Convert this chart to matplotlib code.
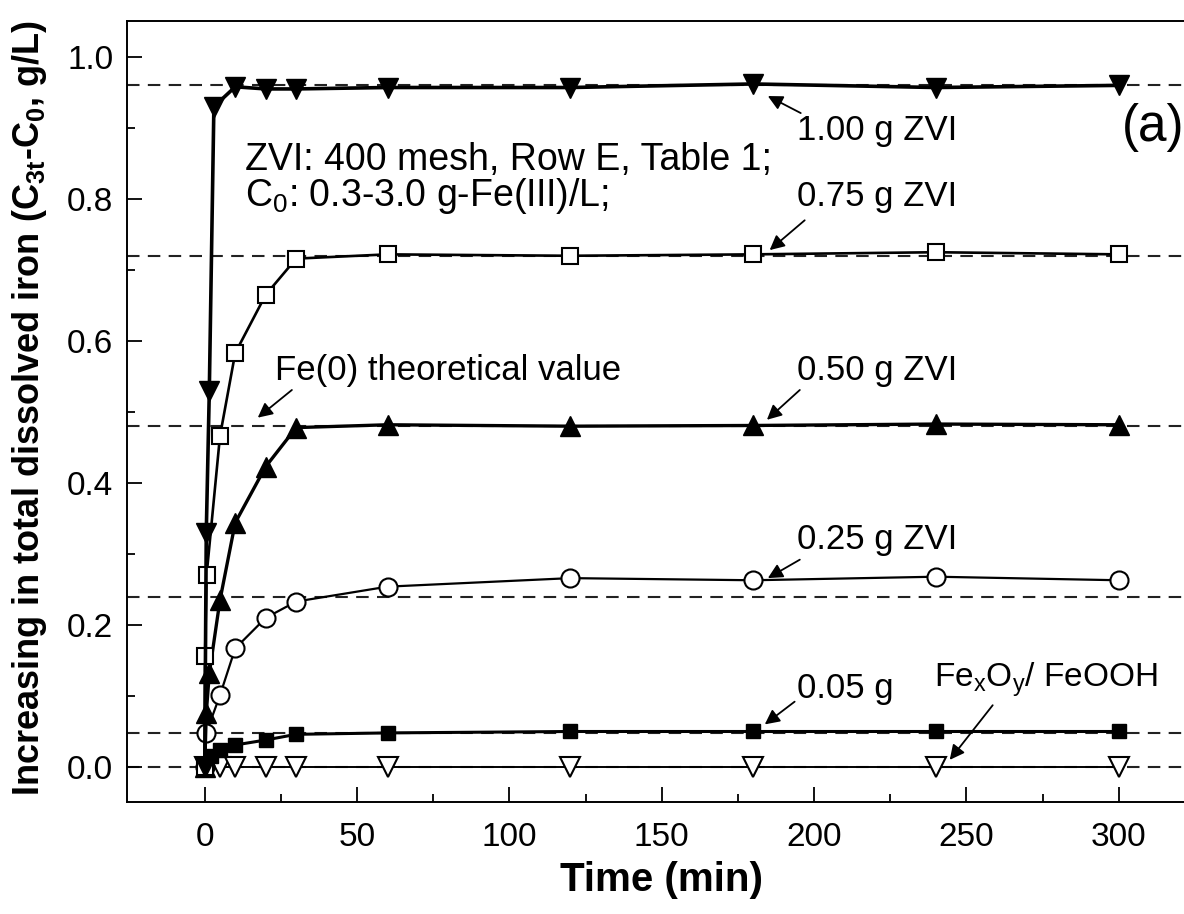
import matplotlib
matplotlib.use("Agg")
import matplotlib.pyplot as plt

plt.rcParams['font.family'] = ['Liberation Sans', 'DejaVu Sans']

# data (time in min, increase in dissolved iron in g/L)
t_100 = [0, 0.5, 1.5, 3, 10, 20, 30, 60, 120, 180, 240, 300]
c_100 = [0, 0.33, 0.53, 0.93, 0.958, 0.955, 0.955, 0.957, 0.957, 0.962, 0.957, 0.960]

t_075 = [0, 0.1, 0.6, 5, 10, 20, 30, 60, 120, 180, 240, 300]
c_075 = [0, 0.156, 0.27, 0.466, 0.583, 0.665, 0.716, 0.722, 0.720, 0.722, 0.725, 0.722]

t_050 = [0, 0.5, 1.5, 5, 10, 20, 30, 60, 120, 180, 240, 300]
c_050 = [0, 0.076, 0.132, 0.235, 0.344, 0.423, 0.478, 0.482, 0.480, 0.481, 0.483, 0.482]

t_025 = [0, 0.5, 5, 10, 20, 30, 60, 120, 180, 240, 300]
c_025 = [0, 0.048, 0.101, 0.167, 0.210, 0.233, 0.254, 0.266, 0.263, 0.268, 0.263]

t_005 = [0, 2, 5, 10, 20, 30, 60, 120, 180, 240, 300]
c_005 = [0, 0.015, 0.024, 0.031, 0.038, 0.046, 0.048, 0.050, 0.050, 0.050, 0.050]

t_ox = [0, 5, 10, 20, 30, 60, 120, 180, 240, 300]
c_ox = [0, 0, 0, 0, 0, 0, 0, 0, 0, 0]

# Fe(0) theoretical values
theory = [0.96, 0.72, 0.48, 0.24, 0.048, 0.0]

fig = plt.figure(figsize=(11.84, 9.14), dpi=100)
ax = fig.add_axes([0.1073, 0.122, 0.902, 0.8545])

for v in theory:
    ax.axhline(v, color='#222222', lw=1.5, ls=(0, (6, 4)), zorder=1)

ax.plot(t_ox, c_ox, '-v', color='k', lw=1.4, ms=14, mfc='white', mec='k', mew=1.5, zorder=3)
ax.plot(t_005, c_005, '-s', color='k', lw=2.2, ms=10, mfc='k', mec='k', zorder=3)
ax.plot(t_025, c_025, '-o', color='k', lw=1.6, ms=13, mfc='white', mec='k', mew=1.5, zorder=3)
ax.plot(t_050, c_050, '-^', color='k', lw=2.4, ms=14, mfc='k', mec='k', zorder=3)
ax.plot(t_075, c_075, '-s', color='k', lw=1.9, ms=11, mfc='white', mec='k', mew=1.5, zorder=3)
ax.plot(t_100, c_100, '-v', color='k', lw=2.6, ms=15, mfc='k', mec='k', zorder=4)

ax.set_xlim(-25.5, 325)
ax.set_ylim(-0.05, 1.05)
ax.set_xticks([0, 50, 100, 150, 200, 250, 300])
ax.set_xticks(range(25, 300, 50), minor=True)
ax.set_yticks([0.0, 0.2, 0.4, 0.6, 0.8, 1.0])
ax.set_yticks([0.1, 0.3, 0.5, 0.7, 0.9], minor=True)
ax.set_yticklabels(['0.0', '0.2', '0.4', '0.6', '0.8', '1.0'])
ax.tick_params(which='both', direction='in', top=False, right=False, width=1.3)
ax.tick_params(which='major', length=11, labelsize=24)
ax.tick_params(axis='x', which='major', pad=14)
ax.tick_params(axis='y', which='major', pad=10)
ax.tick_params(which='minor', length=6)
for s in ax.spines.values():
    s.set_linewidth(1.4)

ax.set_xlabel('Time (min)', fontsize=29, fontweight='bold', labelpad=6)
ax.set_ylabel(r'Increasing in total dissolved iron (C$\mathregular{_{3t}}$-C$\mathregular{_0}$, g/L)',
              fontsize=26, fontweight='bold', family=['Liberation Sans Narrow', 'Liberation Sans'])
ax.yaxis.set_label_coords(-0.073, 0.505)

fs = 25
ax.text(13.1, 0.855, 'ZVI: 400 mesh, Row E, Table 1;', fontsize=27, va='center')
ax.text(13.1, 0.804, r'C$\mathregular{_0}$: 0.3-3.0 g-Fe(III)/L;', fontsize=27, va='center')
ax.text(301, 0.9, '(a)', fontsize=37, va='center')

ax.text(194.3, 0.897, '1.00 g ZVI', fontsize=fs, va='center')
ax.text(194.3, 0.804, '0.75 g ZVI', fontsize=fs, va='center')
ax.text(23, 0.559, 'Fe(0) theoretical value', fontsize=fs, va='center')
ax.text(194.3, 0.559, '0.50 g ZVI', fontsize=fs, va='center')
ax.text(194.3, 0.32, '0.25 g ZVI', fontsize=fs, va='center')
ax.text(194.3, 0.111, '0.05 g', fontsize=fs, va='center')
ax.text(239.5, 0.1225, r'Fe$\mathregular{_x}$O$\mathregular{_y}$/ FeOOH', fontsize=24, va='center')

# arrows: (tip, tail) in data coordinates
arrows = [((184.8, 0.945), (195.6, 0.921)),
          ((185.4, 0.728), (196.9, 0.770)),
          ((17.4, 0.492), (28.6, 0.531)),
          ((184.5, 0.489), (195.3, 0.531)),
          ((184.8, 0.266), (195.3, 0.292)),
          ((183.8, 0.060), (193.6, 0.092)),
          ((244.5, 0.010), (258.6, 0.087))]
for tip, tail in arrows:
    ax.annotate('', xy=tip, xytext=tail,
                arrowprops=dict(arrowstyle='-|>', color='k', lw=1.3, mutation_scale=22,
                                shrinkA=0, shrinkB=0))

fig.savefig('out.png', dpi=100)
